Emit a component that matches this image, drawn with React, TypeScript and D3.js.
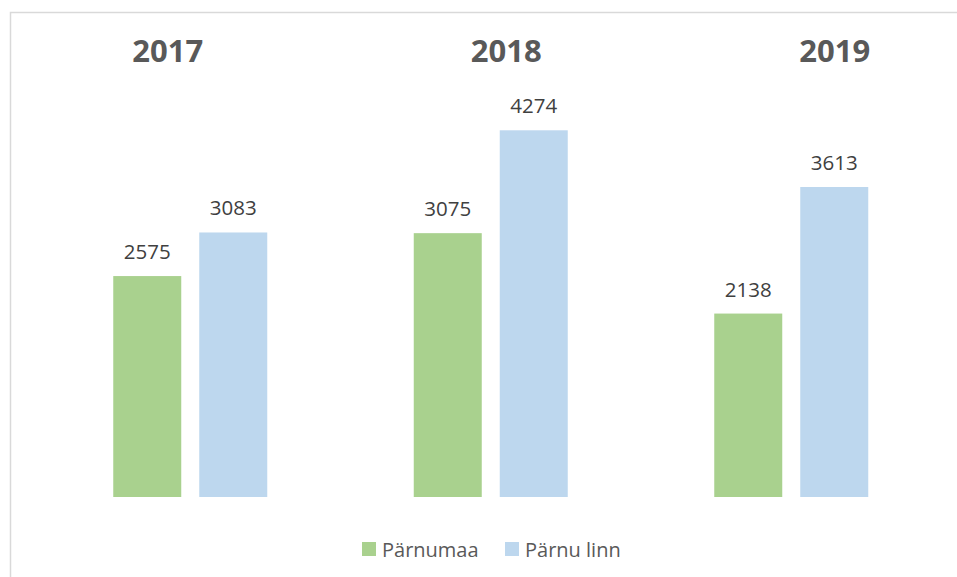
import React, { useEffect, useRef } from 'react';
import * as d3 from 'd3';

const years = ['2017', '2018', '2019'];
const seriesNames = ['Pärnumaa', 'Pärnu linn'];
const parnumaa = [2575, 3075, 2138];
const parnuLinn = [3083, 4274, 3613];

const colors = ['#A9D18E', '#BDD7EE'];

const W = 957;
const H = 577;

const App = () => {
  const ref = useRef<SVGSVGElement | null>(null);

  useEffect(() => {
    if (!ref.current) return;
    const svg = d3.select(ref.current);
    svg.selectAll('*').remove();

    const font = "'Open Sans', 'Liberation Sans', sans-serif";

    // frame of the chart area (cut off by the window on the right / bottom)
    svg.append('rect')
      .attr('x', 10.5)
      .attr('y', 12.5)
      .attr('width', W + 20)
      .attr('height', H + 20)
      .attr('fill', '#fff')
      .attr('stroke', '#d9d9d9')
      .attr('stroke-width', 1.5);

    const x0 = d3.scaleBand<string>()
      .domain(years)
      .range([40, 941.5])
      .padding(0);

    const x1 = d3.scaleBand<string>()
      .domain(seriesNames)
      .range([0, 154])
      .paddingInner(0.2093)
      .paddingOuter(0);

    const y = d3.scaleLinear()
      .domain([0, 5000])
      .range([497, 68]);

    const rows = years.map((yr, i) => ({
      year: yr,
      values: [parnumaa[i], parnuLinn[i]],
    }));

    const groups = svg.selectAll('g.grp')
      .data(rows)
      .enter()
      .append('g')
      .attr('class', 'grp')
      .attr('transform', d => `translate(${x0(d.year)! + x0.bandwidth() / 2 - 77},0)`);

    groups.selectAll('rect')
      .data(d => d.values.map((v, j) => ({ name: seriesNames[j], v, j })))
      .enter()
      .append('rect')
      .attr('x', d => x1(d.name)!)
      .attr('y', d => y(d.v))
      .attr('width', x1.bandwidth())
      .attr('height', d => y(0) - y(d.v))
      .attr('fill', d => colors[d.j]);

    groups.selectAll('text.lbl')
      .data(d => d.values.map((v, j) => ({ name: seriesNames[j], v, j })))
      .enter()
      .append('text')
      .attr('class', 'lbl')
      .attr('x', d => x1(d.name)! + x1.bandwidth() / 2)
      .attr('y', d => y(d.v) - 17)
      .attr('text-anchor', 'middle')
      .style('font-family', font)
      .style('font-size', '20.5px')
      .style('fill', '#404040')
      .text(d => d.v);

    // year titles sit slightly off the group centres
    const titleShift = [-22.5, 15.5, 43.5];
    svg.selectAll('text.yr')
      .data(years)
      .enter()
      .append('text')
      .attr('class', 'yr')
      .attr('x', (d, i) => x0(d)! + x0.bandwidth() / 2 + titleShift[i])
      .attr('y', 62)
      .attr('text-anchor', 'middle')
      .style('font-family', font)
      .style('font-size', '31px')
      .style('font-weight', 'bold')
      .style('fill', '#595959')
      .text(d => d);

    // legend
    const legendX = [362, 505];
    const leg = svg.selectAll('g.leg')
      .data(seriesNames)
      .enter()
      .append('g')
      .attr('class', 'leg')
      .attr('transform', (d, i) => `translate(${legendX[i]},542)`);

    leg.append('rect')
      .attr('width', 14)
      .attr('height', 14)
      .attr('fill', (d, i) => colors[i]);

    leg.append('text')
      .attr('x', 20)
      .attr('y', 15)
      .style('font-family', font)
      .style('font-size', '20px')
      .style('fill', '#595959')
      .text(d => d);
  }, []);

  return (
    <svg
      ref={ref}
      width={W}
      height={H}
      style={{ position: 'absolute', left: 0, top: 0, background: '#fff' }}
    />
  );
};

export default App;
